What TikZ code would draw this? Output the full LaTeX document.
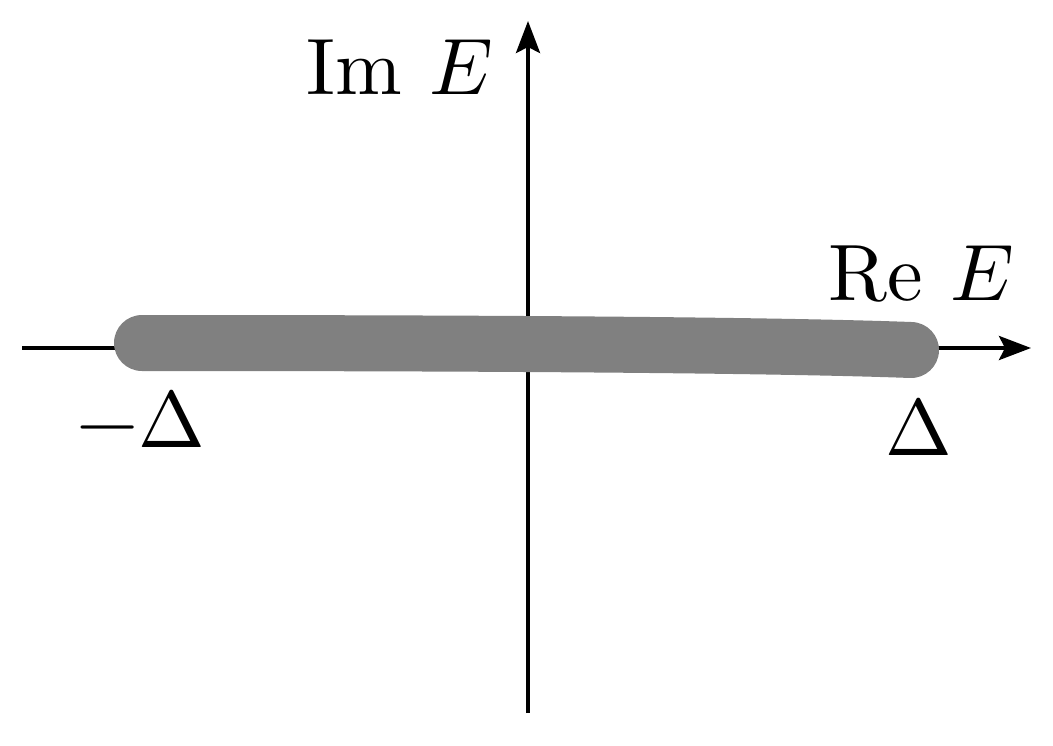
\documentclass[tikz,border=0pt]{standalone}
\usepackage{fontspec}
\setmainfont{lmroman10-regular.otf}[ItalicFont=lmroman10-italic.otf]
\newfontfamily\mfont{latinmodern-math.otf}
\usetikzlibrary{arrows.meta}
\begin{document}
\begin{tikzpicture}[x=0.5pt,y=-0.5pt,
  axis/.style={line width=2pt,-{Stealth[length=16pt,width=12pt,inset=3pt]}},
  band/.style={line width=28pt,line cap=round,draw={rgb,255:red,128;green,128;blue,128}},
  lbl/.style={inner sep=0pt,anchor=base west,font=\fontsize{40}{48}\selectfont}]
\useasboundingbox (0,0) rectangle (1053,745);
\coordinate (xs) at (22,348);
\coordinate (xe) at (1031,348);
\coordinate (ys) at (528,713);
\coordinate (ye) at (528,21);
\draw[axis] (xs) -- (xe);
\draw[axis] (ys) -- (ye);
\coordinate (bl) at (142,343);
\coordinate (br) at (911,350);
\draw[band] (bl) .. controls (400,343) and (750,344) .. (br);
\node[lbl] (im) at (306,94) {Im\hspace{14pt}{\mfont 𝐸}};
\node[lbl] (re) at (828,300) {Re\hspace{14pt}{\mfont 𝐸}};
\node[lbl] (md) at (76,447) {{\mfont −}Δ};
\node[lbl] (pd) at (885,455) {Δ};
\end{tikzpicture}
\end{document}
